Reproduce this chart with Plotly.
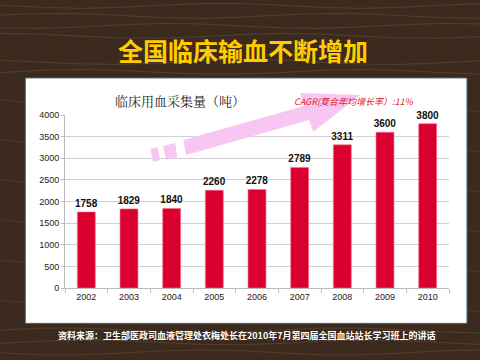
import plotly.graph_objects as go
import math

years = ["2002", "2003", "2004", "2005", "2006", "2007", "2008", "2009", "2010"]
volumes = [1758, 1829, 1840, 2260, 2278, 2789, 3311, 3600, 3800]
y_ticks = [0, 500, 1000, 1500, 2000, 2500, 3000, 3500, 4000]

W, H = 480, 360
L, R, T, B = 64.7, 449.0, 115.0, 287.7

def px(x):
    return (x - L) / (R - L)

def py(y):
    return (B - y) / (B - T)

fig = go.Figure()
fig.add_trace(go.Bar(
    x=years, y=volumes,
    marker=dict(color="#DC0030", line=dict(color="#F07090", width=0.6)),
    texttemplate="<b>%{y}</b>", textposition="outside", constraintext="none",
    textfont=dict(family="Liberation Sans, Arial", size=10, color="#111"),
    cliponaxis=False, width=0.42,
))

shapes = []
# wood grain lines
grain_rows = [6, 16, 26, 36, 62, 72, 330, 342, 352]
for gy in grain_rows:
    pts = []
    for i in range(0, 13):
        xx = i * 40
        yy = gy + 2.5 * math.sin(i * 0.9 + gy)
        pts.append((xx, yy))
    path = "M " + " L ".join(f"{px(a):.4f},{py(b):.4f}" for a, b in pts)
    shapes.append(dict(type="path", xref="paper", yref="paper", path=path,
                       line=dict(color="rgba(255,235,200,0.10)", width=1.2), layer="below"))
for k, gy in enumerate([100, 140, 180, 220, 260, 300]):
    shapes.append(dict(type="line", xref="paper", yref="paper", x0=px(0), x1=px(25),
                       y0=py(gy), y1=py(gy + 2), line=dict(color="rgba(255,235,200,0.08)", width=1), layer="below"))
    shapes.append(dict(type="line", xref="paper", yref="paper", x0=px(467), x1=px(480),
                       y0=py(gy + 10), y1=py(gy + 12), line=dict(color="rgba(255,235,200,0.08)", width=1), layer="below"))
# white panel
shapes.append(dict(type="rect", xref="paper", yref="paper",
                   x0=px(25), x1=px(467), y0=py(323), y1=py(78),
                   fillcolor="white", line=dict(color="#3a6a86", width=1), layer="below"))
# decorative pink arrow
pink = "#F8C6F2"
def poly(points):
    return "M " + " L ".join(f"{px(a):.4f},{py(b):.4f}" for a, b in points) + " Z"
shapes.append(dict(type="path", xref="paper", yref="paper",
                   path=poly([(150, 149), (157, 147), (160, 160), (153, 162)]),
                   fillcolor=pink, line=dict(width=0), layer="above"))
shapes.append(dict(type="path", xref="paper", yref="paper",
                   path=poly([(163, 146), (175, 143), (177, 157), (166, 160)]),
                   fillcolor=pink, line=dict(width=0), layer="above"))
shapes.append(dict(type="path", xref="paper", yref="paper",
                   path=poly([(183, 140), (304, 106), (300, 93), (360, 95),
                              (313, 132), (309, 120), (186, 155)]),
                   fillcolor=pink, line=dict(width=0), layer="above"))

annotations = [
    dict(text="<b>全国临床输血不断增加</b>", xref="paper", yref="paper", x=px(243), y=py(50),
         showarrow=False, font=dict(family="Noto Sans CJK SC", size=25, color="#FFCC00"),
         xanchor="center", yanchor="middle"),
    dict(text="临床用血采集量（吨）", xref="paper", yref="paper", x=px(180), y=py(101),
         showarrow=False, font=dict(family="Noto Serif CJK SC, Noto Sans CJK SC", size=13, color="#222"),
         xanchor="center", yanchor="middle"),
    dict(text="<i>CAGR(复合年均增长率）:11%</i>", xref="paper", yref="paper", x=px(354), y=py(102),
         showarrow=False, font=dict(family="Noto Sans CJK SC", size=9, color="#E8202A"),
         xanchor="center", yanchor="middle"),
    dict(text="<b>资料来源：卫生部医政司血液管理处衣梅处长在2010年7月第四届全国血站站长学习班上的讲话</b>",
         xref="paper", yref="paper", x=px(247), y=py(335),
         showarrow=False, font=dict(family="Noto Sans CJK SC", size=9, color="#FFFFFF"),
         xanchor="center", yanchor="middle"),
]

fig.update_layout(
    width=W, height=H,
    margin=dict(l=L, r=W - R, t=T, b=H - B, pad=0),
    paper_bgcolor="#3b2a1d",
    plot_bgcolor="rgba(0,0,0,0)",
    showlegend=False,
    shapes=shapes,
    annotations=annotations,
    xaxis=dict(type="category", tickson="boundaries", ticks="outside", ticklen=4,
               tickcolor="#bbb", showline=True, linecolor="#bbb", showgrid=False,
               tickfont=dict(family="Liberation Sans, Arial", size=9, color="#222")),
    yaxis=dict(range=[0, 4000], tickvals=y_ticks, showgrid=True, gridcolor="#d0d0d0",
               ticks="outside", ticklen=3, tickcolor="#bbb", showline=True, linecolor="#bbb",
               zeroline=False,
               tickfont=dict(family="Liberation Sans, Arial", size=9, color="#222")),
)

fig.write_html("out.html", config={"displayModeBar": False},
               post_script="document.body.style.margin='0';document.body.style.background='#3b2a1d';")
